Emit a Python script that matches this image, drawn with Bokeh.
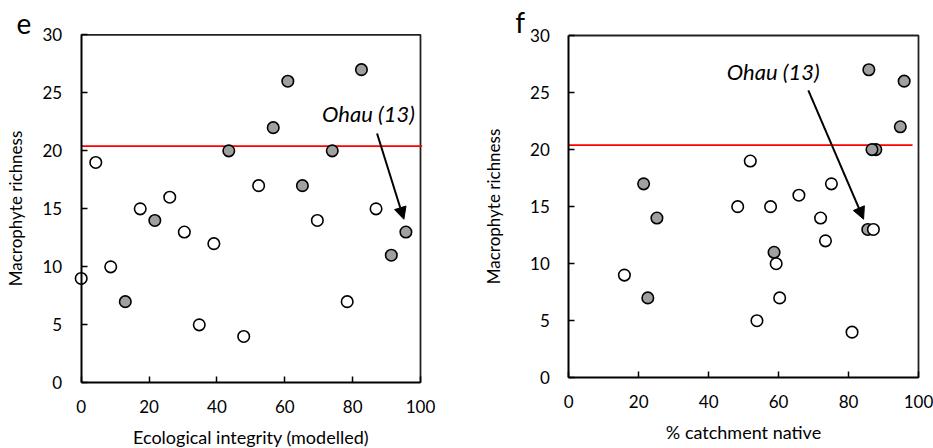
from bokeh.plotting import figure
from bokeh.layouts import row
from bokeh.models import Range1d, Label, Arrow, NormalHead, FixedTicker, ColumnDataSource, LinearAxis
from bokeh.embed import file_html
from bokeh.resources import INLINE

# ---------------- data ----------------
# Panel e: ecological integrity (modelled) vs macrophyte richness
integrity = [0, 4.3, 8.7, 13.0, 17.4, 21.7, 26.1, 30.4, 34.8, 39.1, 43.5, 47.9,
             52.3, 56.6, 60.9, 65.2, 69.6, 74.0, 78.4, 82.6, 86.9, 91.4, 95.7]
richness_e = [9, 19, 10, 7, 15, 14, 16, 13, 5, 12, 20, 4,
              17, 22, 26, 17, 14, 20, 7, 27, 15, 11, 13]
group_e = ["open", "open", "open", "grey", "open", "grey", "open", "open", "open", "open", "grey", "open",
           "open", "grey", "grey", "grey", "open", "grey", "open", "grey", "open", "grey", "grey"]

# Panel f: % catchment native vs macrophyte richness
native = [15.9, 21.4, 22.6, 25.2, 48.3, 51.9, 53.8, 57.7, 58.7, 59.3, 60.3, 65.8,
          72.0, 73.4, 75.1, 81.0, 85.8, 85.5, 87.1, 87.8, 86.7, 94.8, 95.9]
richness_f = [9, 17, 7, 14, 15, 19, 5, 15, 11, 10, 7, 16,
              14, 12, 17, 4, 27, 13, 13, 20, 20, 22, 26]
group_f = ["open", "grey", "grey", "grey", "open", "open", "open", "open", "grey", "open", "open", "open",
           "open", "open", "open", "open", "grey", "grey", "open", "grey", "grey", "grey", "grey"]

threshold = 20.4
x_ticks = [0, 20, 40, 60, 80, 100]
y_ticks = [0, 5, 10, 15, 20, 25, 30]
x_lim = (0, 100)
y_lim = (0, 30)
colour_of = {"open": "#ffffff", "grey": "#a0a0a0"}

FONT = "Lato"


def make_panel(xs, ys, groups, xlabel, letter, width, xr, yr, thr_end,
               letter_pos, note_pos, arrow, ylab_standoff, xlab_standoff):
    p = figure(width=width, height=448, output_backend="svg", toolbar_location=None,
               x_range=Range1d(*xr), y_range=Range1d(*yr),
               x_axis_location=None, y_axis_location=None,
               min_border=0, background_fill_color="white", border_fill_color="white")
    p.grid.visible = False
    p.outline_line_color = None

    xaxis = LinearAxis(fixed_location=y_lim[0], bounds=x_lim, ticker=FixedTicker(ticks=x_ticks),
                       axis_label=xlabel)
    yaxis = LinearAxis(fixed_location=x_lim[0], bounds=y_lim, ticker=FixedTicker(ticks=y_ticks),
                       axis_label="Macrophyte richness")
    for ax in (xaxis, yaxis):
        ax.major_tick_in = 6
        ax.major_tick_out = 0
        ax.minor_tick_line_color = None
        ax.axis_line_width = 2
        ax.major_tick_line_width = 1.5
        ax.major_label_text_font = FONT
        ax.major_label_text_font_size = "17px"
        ax.major_label_text_color = "black"
        ax.axis_label_text_font = FONT
        ax.axis_label_text_font_style = "normal"
        ax.axis_label_text_color = "black"
    xaxis.axis_label_text_font_size = "18px"
    yaxis.axis_label_text_font_size = "17px"
    xaxis.major_label_standoff = 17
    yaxis.major_label_standoff = 19
    yaxis.axis_label_standoff = ylab_standoff
    xaxis.axis_label_standoff = xlab_standoff
    p.add_layout(xaxis, "below")
    p.add_layout(yaxis, "left")

    # top and right frame borders
    p.line(x=[x_lim[0], x_lim[1], x_lim[1]], y=[y_lim[1], y_lim[1], y_lim[0]],
           line_color="#222222", line_width=1.8)

    p.line(x=[x_lim[0], thr_end], y=[threshold, threshold], line_color="#ff0000", line_width=1.8)

    src = ColumnDataSource(dict(x=xs, y=ys, c=[colour_of[g] for g in groups]))
    p.scatter("x", "y", source=src, size=11.5, fill_color="c", line_color="black", line_width=1.6)

    p.add_layout(Label(x=note_pos[0], y=note_pos[1], text="Ohau (13)", text_font=FONT,
                       text_font_size="22px", text_font_style="italic", text_baseline="middle",
                       text_align="left", text_color="black"))
    p.add_layout(Arrow(end=NormalHead(size=12, fill_color="black", line_color="black"),
                       x_start=arrow[0], y_start=arrow[1], x_end=arrow[2], y_end=arrow[3],
                       line_width=2, line_color="black"))
    p.add_layout(Label(x=letter_pos[0], y=letter_pos[1], text=letter, text_font=FONT,
                       text_font_size="28px", text_baseline="alphabetic", text_align="left",
                       text_color="black"))
    return p


pe = make_panel(integrity, richness_e, group_e, "Ecological integrity (modelled)", "e",
                466, (-23.78, 113.56), (-5.66, 32.96), 100.5,
                (-19.1, 31.0), (71.0, 23.2), (87.2, 21.5, 95.1, 14.1), 14, 10)
pf = make_panel(native, richness_f, group_f, "% catchment native", "f",
                467, (-29.25, 104.29), (-6.20, 33.07), 98.3,
                (-15.3, 31.15), (45.2, 26.85), (68.5, 25.2, 84.3, 13.9), 23, 10)

layout = row(pe, pf)
open("out.html", "w").write(file_html(layout, INLINE))
